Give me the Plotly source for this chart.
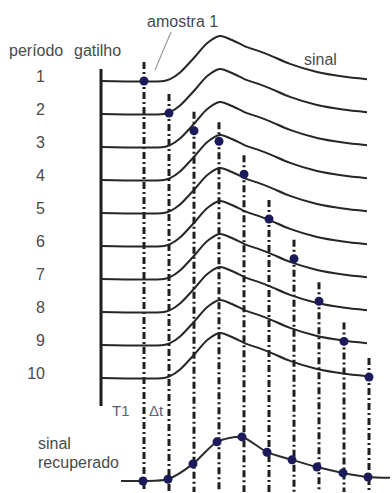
import plotly.graph_objects as go

# ---------------- data ----------------
PERIODS = [1, 2, 3, 4, 5, 6, 7, 8, 9, 10]
PERIOD_LABELS = ["1", "2", "3", "4", "5", "6", "7", "8", "9", "10"]

# one period of the repetitive signal: time (units of Δt after the trigger) vs normalised amplitude
SIGNAL_T = [0.0, 2.52, 2.76, 3.16, 3.76, 4.24, 4.76, 5.24, 5.76, 6.24, 6.76, 7.56, 8.64, 9.68, 10.64]
SIGNAL_A = [0.0, 0.0, 0.04, 0.19, 0.54, 0.84, 1.00, 0.91, 0.77, 0.68, 0.57, 0.38, 0.20, 0.10, 0.04]

# sampling instants (T1, T1+Δt, T1+2Δt, ...) and the sampled amplitudes, one per period
SAMPLE_T = [1.72, 2.72, 3.72, 4.72, 5.72, 6.72, 7.72, 8.72, 9.72, 10.72]
SAMPLE_A = [0.0, 0.02, 0.36, 0.86, 0.86, 0.60, 0.45, 0.24, 0.08, 0.02]

# recovered signal (built from the samples)
RECOVERED_T = [0.8, 1.68, 2.68, 3.68, 4.64, 5.64, 6.64, 7.64, 8.64, 9.68, 10.68, 11.56]
RECOVERED_A = [0.0, 0.0, 0.04, 0.38, 0.87, 0.98, 0.64, 0.47, 0.31, 0.18, 0.09, 0.07]

# ---------------- layout constants ----------------
W, H = 392, 493
PX_PER_T = 25.0          # horizontal pixels per Δt
X0_PX = 101.0            # trigger line position
ROW_PX = 33.0            # vertical spacing of periods
ROW1_PX = 81.0           # baseline of period 1
AMP = 45.0 / ROW_PX      # peak height in row units
REC_ROW = (481.0 - (ROW1_PX - ROW_PX)) / ROW_PX

def xr(px):
    return (px - X0_PX) / PX_PER_T

def yr(px):
    return (px - (ROW1_PX - ROW_PX)) / ROW_PX

INK = "#1e1e1e"
TXT = "#4a4a4a"
DOT = "#1b1b5c"
FAMILY = "Liberation Sans, Arial, sans-serif"

fig = go.Figure()

# vertical dash-dot sampling lines
vx, vy = [], []
for t, a, p in zip(SAMPLE_T, SAMPLE_A, PERIODS):
    top = p - AMP * a - 19.0 / ROW_PX
    vx += [t, t, None]
    vy += [top, yr(492), None]
fig.add_trace(go.Scatter(x=vx, y=vy, mode="lines",
                         line=dict(color=INK, width=3, dash="7px,3px,2px,3px"),
                         hoverinfo="skip"))

# trigger line
fig.add_trace(go.Scatter(x=[0, 0], y=[yr(69), yr(406)], mode="lines",
                         line=dict(color=INK, width=3), hoverinfo="skip"))

# the signal in each period
for p in PERIODS:
    fig.add_trace(go.Scatter(x=SIGNAL_T, y=[p - AMP * a for a in SIGNAL_A],
                             mode="lines", line=dict(color="#262626", width=2, shape="spline", smoothing=0.8),
                             hoverinfo="skip"))

# recovered signal line
fig.add_trace(go.Scatter(x=RECOVERED_T, y=[REC_ROW - AMP * a for a in RECOVERED_A],
                         mode="lines", line=dict(color="#2b2b2b", width=2, shape="spline", smoothing=0.7),
                         hoverinfo="skip"))

# sample dots on the periods
fig.add_trace(go.Scatter(x=SAMPLE_T, y=[p - AMP * a for p, a in zip(PERIODS, SAMPLE_A)],
                         mode="markers", marker=dict(color=DOT, size=9), hoverinfo="skip"))

# dots on the recovered signal
fig.add_trace(go.Scatter(x=RECOVERED_T[1:-1], y=[REC_ROW - AMP * a for a in RECOVERED_A[1:-1]],
                         mode="markers", marker=dict(color=DOT, size=9), hoverinfo="skip"))

# period numbers
fig.add_trace(go.Scatter(x=[xr(45)] * len(PERIODS), y=[p - 0.08 for p in PERIODS],
                         mode="text", text=PERIOD_LABELS, textposition="middle left",
                         textfont=dict(family=FAMILY, size=16, color=TXT),
                         hoverinfo="skip"))

# pointer of "amostra 1"
fig.add_trace(go.Scatter(x=[xr(171), xr(155)], y=[yr(32), yr(70)], mode="lines",
                         line=dict(color="#9a9a9a", width=1.2), hoverinfo="skip"))

font = dict(family=FAMILY, size=16, color=TXT)
ann = [
    ("período", 36, 50, "center"),
    ("gatilho", 97, 50, "center"),
    ("amostra 1", 182, 21, "center"),
    ("sinal", 320, 59, "center"),
    ("T1", 121, 410, "center"),
    ("Δt", 156, 410, "center"),
    ("sinal", 36, 443, "left"),
    ("recuperado", 36, 462, "left"),
]
for text, x, y, al in ann:
    f = dict(font)
    if text in ("T1", "Δt"):
        f["color"] = "#5d6270"
        f["size"] = 15
    fig.add_annotation(x=xr(x), y=yr(y), text=text, showarrow=False,
                       xanchor=al, yanchor="middle", font=f)

fig.update_layout(
    width=W, height=H, margin=dict(l=0, r=0, t=0, b=0),
    paper_bgcolor="white", plot_bgcolor="white", showlegend=False,
    xaxis=dict(range=[xr(0), xr(W)], visible=False, fixedrange=True),
    yaxis=dict(range=[yr(H), yr(0)], visible=False, fixedrange=True),
)

fig.write_html("out.html", config={"displayModeBar": False, "staticPlot": True},
               post_script="document.body.style.margin='0';")
